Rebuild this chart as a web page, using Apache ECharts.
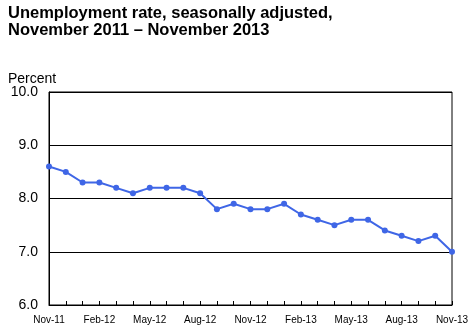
<!DOCTYPE html>
<html>
<head>
<meta charset="utf-8">
<script src="https://cdn.jsdelivr.net/npm/echarts@6/dist/echarts.min.js"></script>
<style>
  html, body { margin: 0; padding: 0; background: #fff; }
  #chart { width: 475px; height: 329px; }
</style>
</head>
<body>
<div id="chart"></div>
<script>
// Monthly unemployment rate, seasonally adjusted (percent)
var months = ['Nov-11','Dec-11','Jan-12','Feb-12','Mar-12','Apr-12','May-12','Jun-12','Jul-12',
              'Aug-12','Sep-12','Oct-12','Nov-12','Dec-12','Jan-13','Feb-13','Mar-13','Apr-13',
              'May-13','Jun-13','Jul-13','Aug-13','Sep-13','Oct-13','Nov-13'];
var rates = [8.6, 8.5, 8.3, 8.3, 8.2, 8.1, 8.2, 8.2, 8.2, 8.1, 7.8, 7.9, 7.8, 7.8, 7.9,
             7.7, 7.6, 7.5, 7.6, 7.6, 7.4, 7.3, 7.2, 7.3, 7.0];
var titleLines = ['Unemployment rate, seasonally adjusted,', 'November 2011 \u2013 November 2013'];
var yAxisName = 'Percent';

var chart = echarts.init(document.getElementById('chart'), null, { renderer: 'canvas' });
chart.setOption({
  animation: false,
  backgroundColor: '#ffffff',
  title: {
    text: titleLines.join('\n'),
    left: 8, top: 5, padding: 0,
    textStyle: { fontFamily: 'Liberation Sans, Arial, sans-serif', fontSize: 16.5, fontWeight: 'bold',
                 color: '#000', lineHeight: 17 }
  },
  graphic: [{
    type: 'text', left: 8, top: 72,
    style: { text: yAxisName, font: '14px "Liberation Sans", Arial, sans-serif', fill: '#000' }
  }],
  grid: { left: 49, right: 23, top: 92, bottom: 24, show: true, borderColor: '#000', borderWidth: 1,
          containLabel: false },
  xAxis: {
    type: 'category',
    data: months,
    boundaryGap: false,
    axisLine: { lineStyle: { color: '#000', width: 1 } },
    axisTick: { show: true, interval: 0, inside: true, length: 4, lineStyle: { color: '#000' } },
    axisLabel: {
      interval: 2, color: '#000', fontSize: 10, margin: 10,
      fontFamily: 'Liberation Sans, Arial, sans-serif'
    },
    splitLine: { show: false }
  },
  yAxis: {
    type: 'value',
    min: 6, max: 10, interval: 1,
    axisLine: { show: true, lineStyle: { color: '#000', width: 1 } },
    axisTick: { show: false },
    axisLabel: {
      color: '#000', fontSize: 14, margin: 11,
      fontFamily: 'Liberation Sans, Arial, sans-serif',
      formatter: function (v) { return v.toFixed(1); }
    },
    splitLine: { show: true, lineStyle: { color: '#000', width: 1 } }
  },
  series: [{
    type: 'line',
    data: rates,
    symbol: 'circle',
    symbolSize: 6,
    lineStyle: { color: '#3f66e6', width: 2 },
    itemStyle: { color: '#3f66e6' }
  }]
});
</script>
</body>
</html>
